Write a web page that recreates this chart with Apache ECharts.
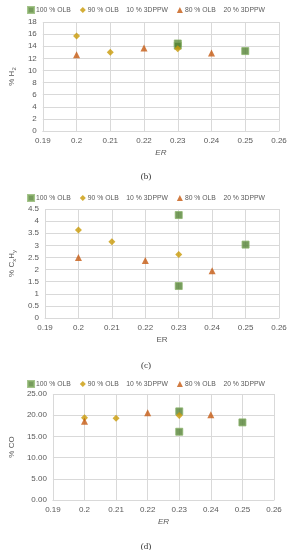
<!DOCTYPE html>
<html><head><meta charset="utf-8">
<script src="https://cdn.jsdelivr.net/npm/echarts@6/dist/echarts.min.js"></script>
<style>html,body{margin:0;padding:0;background:#fff}#c{width:292px;height:550px}</style>
</head><body><div id="c"></div>
<script>
// ---- data ----
const xTicks = [0.19, 0.20, 0.21, 0.22, 0.23, 0.24, 0.25, 0.26];
const seriesNames = ['100 % OLB', '90 % OLB    10 % 3DPPW', '80 % OLB    20 % 3DPPW'];
// (b) H2
const h2_olb100 = [[0.23, 14.45], [0.23, 14.1], [0.25, 13.2]];
const h2_olb90 = [[0.20, 15.7], [0.21, 13.0], [0.23, 13.6]];
const h2_olb80 = [[0.20, 12.6], [0.22, 13.7], [0.24, 12.9]];
// (c) CxHy
const cxhy_olb100 = [[0.23, 4.25], [0.23, 1.32], [0.25, 3.03]];
const cxhy_olb90 = [[0.20, 3.63], [0.21, 3.15], [0.23, 2.62]];
const cxhy_olb80 = [[0.20, 2.5], [0.22, 2.37], [0.24, 1.95]];
// (d) CO
const co_olb100 = [[0.23, 20.9], [0.23, 16.1], [0.25, 18.3]];
const co_olb90 = [[0.20, 19.4], [0.21, 19.3], [0.23, 19.9]];
const co_olb80 = [[0.20, 18.6], [0.22, 20.6], [0.24, 20.1]];
const panelLabels = ['(b)', '(c)', '(d)'];

// ---- styles ----
const FONT = '"Liberation Sans", Arial, sans-serif';
const TXT = '#595959';
const GRIDC = '#d9d9d9';
const COLORS = ['#548235', '#c99a06', '#c55a11'];
const SYMS = ['rect', 'diamond', 'triangle'];
const SIZES = [7, 7, 7];

const panels = [
  {data: [h2_olb100, h2_olb90, h2_olb80], grid: {left: 29, right: 13, top: 22, height: 109}, yMin: 0, yMax: 18, yInt: 2, yFmt: v => String(v), yName: '% H{sub|2}', xItalic: true, legendTop: 1, nameGap: 17},
  {data: [cxhy_olb100, cxhy_olb90, cxhy_olb80], grid: {left: 31, right: 13, top: 209, height: 109}, yMin: 0, yMax: 4.5, yInt: 0.5, yFmt: v => String(+v.toFixed(1)), yName: '% C{sub|x}H{sub|y}', xItalic: false, legendTop: 189, nameGap: 19},
  {data: [co_olb100, co_olb90, co_olb80], grid: {left: 44, right: 18, top: 394, height: 106}, yMin: 0, yMax: 25, yInt: 5, yFmt: v => v.toFixed(2), yName: '% CO', xItalic: true, legendTop: 375, nameGap: 27}
];

const option = {
  animation: false,
  backgroundColor: '#fff',
  textStyle: {fontFamily: FONT},
  grid: [], xAxis: [], yAxis: [], series: [], legend: [], title: []
};
const titleY = [167, 356, 537];
panels.forEach((p, i) => {
  option.grid.push(p.grid);
  option.xAxis.push({
    gridIndex: i, type: 'value', min: 0.19, max: 0.26, interval: 0.01,
    name: 'ER', nameLocation: 'middle', nameGap: 18,
    nameTextStyle: {color: TXT, fontSize: 8, fontStyle: p.xItalic ? 'italic' : 'normal', fontFamily: FONT},
    axisLine: {show: true, lineStyle: {color: GRIDC}}, axisTick: {show: false},
    axisLabel: {color: TXT, fontSize: 8, margin: 6, fontFamily: FONT, formatter: v => String(+v.toFixed(2))},
    splitLine: {show: true, lineStyle: {color: GRIDC, width: 1}}
  });
  option.yAxis.push({
    gridIndex: i, type: 'value', min: p.yMin, max: p.yMax, interval: p.yInt,
    name: p.yName, nameLocation: 'middle', nameRotate: 90, nameGap: p.nameGap,
    nameTextStyle: {color: TXT, fontSize: 8, fontFamily: FONT, rich: {sub: {fontSize: 6, verticalAlign: 'bottom', padding: [4, 0, 0, 0], color: TXT}}},
    axisLine: {show: false}, axisTick: {show: false},
    axisLabel: {color: TXT, fontSize: 8, margin: 6, fontFamily: FONT, formatter: p.yFmt},
    splitLine: {show: true, lineStyle: {color: GRIDC, width: 1}}
  });
  const names = seriesNames.map(n => n + '\u200B'.repeat(i));
  p.data.forEach((d, k) => {
    option.series.push({
      type: 'scatter', name: names[k], xAxisIndex: i, yAxisIndex: i, data: d,
      symbol: SYMS[k], symbolSize: SIZES[k],
      itemStyle: {color: COLORS[k], borderColor: k === 0 ? '#8db46e' : COLORS[k], borderWidth: k === 0 ? 1 : 0}
    });
  });
  option.legend.push({
    top: p.legendTop, left: 'center', data: names, itemWidth: 6, itemHeight: 6, itemGap: 9,
    textStyle: {color: TXT, fontSize: 6.8, fontFamily: FONT, padding: [0, 0, 0, -3]},
    formatter: n => n.replace(/\u200B/g, '')
  });
  option.title.push({text: panelLabels[i], left: 'center', top: titleY[i], textStyle: {fontSize: 9, fontWeight: 'normal', color: '#333', fontFamily: '"Liberation Serif", serif'}});
});

const chart = echarts.init(document.getElementById('c'), null, {renderer: 'canvas'});
chart.setOption(option);
</script></body></html>
